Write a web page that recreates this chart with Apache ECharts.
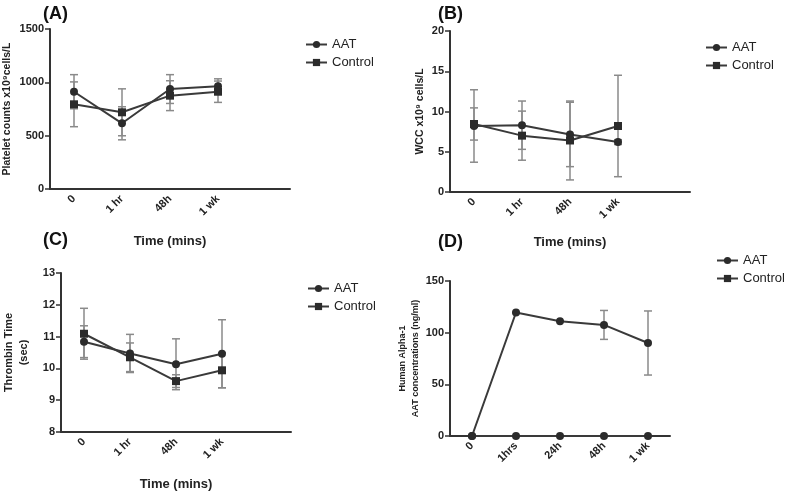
<!DOCTYPE html>
<html>
<head>
<meta charset="utf-8">
<script src="https://cdn.jsdelivr.net/npm/echarts@6/dist/echarts.min.js"></script>
<style>html,body{margin:0;padding:0;background:#fff}#c{width:787px;height:492px}</style>
</head>
<body>
<div id="c"></div>
<script>
// ---- data ----
var catsABC = ['0', '1 hr', '48h', '1 wk', ''];
var catsD = ['0', '1hrs', '24h', '48h', '1 wk'];

var plateletAAT = [912, 616, 937, 963];
var plateletAATErr = [160, 155, 135, 70];
var plateletCtrl = [794, 719, 875, 912];
var plateletCtrlErr = [210, 220, 140, 100];

var wccAAT = [8.2, 8.3, 7.15, 6.2];
var wccAATErr = [4.5, 3.0, 4.0, 0.3];
var wccCtrl = [8.45, 7.0, 6.4, 8.2];
var wccCtrlErr = [2.0, 3.05, 4.9, 6.3];

var thrAAT = [10.84, 10.47, 10.13, 10.46];
var thrAATErr = [0.5, 0.6, 0.8, 1.07];
var thrCtrl = [11.09, 10.35, 9.6, 9.94];
var thrCtrlErr = [0.8, 0.45, 0.2, 0.55];

var alphaAAT = [0, 119.5, 111, 107.5, 90];
var alphaAATErr = [0, 0, 0, 14, 31];
var alphaCtrl = [0, 0, 0, 0, 0];
var alphaCtrlErr = [0, 0, 0, 0, 0];

// ---- helpers ----
var FONT = '"Liberation Sans", Arial, sans-serif';
var DARK = '#2b2b2b';
function errData(v, e) { return v.map(function (x, i) { return [i, x - e[i], x + e[i]]; }); }
function errSeries(v, e, gi) {
  return {
    type: 'custom', xAxisIndex: gi, yAxisIndex: gi, z: 1, silent: true,
    data: errData(v, e),
    renderItem: function (params, api) {
      var lo = api.coord([api.value(0), api.value(1)]);
      var hi = api.coord([api.value(0), api.value(2)]);
      var w = 4;
      var st = { stroke: '#8a8a8a', lineWidth: 1.5 };
      return { type: 'group', children: [
        { type: 'line', shape: { x1: lo[0], y1: lo[1], x2: hi[0], y2: hi[1] }, style: st },
        { type: 'line', shape: { x1: hi[0] - w, y1: hi[1], x2: hi[0] + w, y2: hi[1] }, style: st },
        { type: 'line', shape: { x1: lo[0] - w, y1: lo[1], x2: lo[0] + w, y2: lo[1] }, style: st }
      ]};
    }
  };
}
function lineSeries(name, v, gi, sym) {
  return {
    name: name, type: 'line', xAxisIndex: gi, yAxisIndex: gi, z: 3,
    data: v, symbol: sym, symbolSize: 8,
    lineStyle: { color: '#3a3a3a', width: 2 },
    itemStyle: { color: DARK },
    emphasis: { disabled: true }
  };
}
function xAxis(gi, cats, name, gap) {
  return {
    type: 'category', gridIndex: gi, data: cats, boundaryGap: true,
    axisLine: { lineStyle: { color: '#333', width: 2 } },
    axisTick: { alignWithLabel: true, length: 5, lineStyle: { color: '#333', width: 1.5 },
      interval: function (i, v) { return v !== ''; } },
    axisLabel: { rotate: 45, fontFamily: FONT, fontWeight: 'bold', fontSize: 11, color: '#222', margin: 8, interval: 0 },
    name: name, nameLocation: 'middle', nameGap: gap || 44,
    nameTextStyle: { fontFamily: FONT, fontWeight: 'bold', fontSize: 13, color: '#222' },
    splitLine: { show: false }
  };
}
function yAxis(gi, min, max, interval, name, gap, fs) {
  return {
    type: 'value', gridIndex: gi, min: min, max: max, interval: interval,
    axisLine: { show: true, lineStyle: { color: '#333', width: 2 } },
    axisTick: { show: true, length: 5, lineStyle: { color: '#333', width: 1.5 } },
    axisLabel: { fontFamily: FONT, fontWeight: 'bold', fontSize: 11, color: '#222', margin: 6,
      formatter: function (v) { return String(v); } },
    splitLine: { show: false },
    name: name, nameLocation: 'middle', nameGap: gap, nameRotate: 90,
    nameTextStyle: { fontFamily: FONT, fontWeight: 'bold', fontSize: fs || 10.5, color: '#222', lineHeight: fs ? fs + 4 : 13 }
  };
}
function legend(left, top) {
  return {
    left: left, top: top, orient: 'vertical', itemGap: 5, itemWidth: 21, itemHeight: 9,
    selectedMode: false,
    textStyle: { fontFamily: FONT, fontSize: 13, color: '#222' },
    data: ['AAT', 'Control']
  };
}
function letter(t, l, tp) {
  return { text: t, left: l, top: tp, textStyle: { fontFamily: FONT, fontSize: 18, fontWeight: 'bold', color: '#111' } };
}

var option = {
  animation: false,
  backgroundColor: '#fff',
  title: [letter('(A)', 38, 0), letter('(B)', 433, 0), letter('(C)', 38, 226), letter('(D)', 433, 228)],
  legend: [legend(300, 33), legend(700, 36), legend(302, 277), legend(711, 249)],
  grid: [
    { left: 50, top: 29, width: 240, height: 160 },
    { left: 450, top: 31, width: 240, height: 161 },
    { left: 51, top: 273, width: 240, height: 161 },
    { left: 450, top: 281, width: 220, height: 155 }
  ],
  xAxis: [xAxis(0, catsABC, 'Time (mins)', 46), xAxis(1, catsABC, 'Time (mins)', 44), xAxis(2, catsABC, 'Time (mins)', 46), xAxis(3, catsD, '')],
  yAxis: [
    yAxis(0, 0, 1500, 500, 'Platelet counts x10\u2079cells/L', 36),
    yAxis(1, 0, 20, 5, 'WCC x10\u2079 cells/L', 23),
    yAxis(2, 8, 13, 1, 'Thrombin Time\n(sec)', 30, 11),
    yAxis(3, 0, 150, 50, 'Human Alpha-1\nAAT concentrations (ng/ml)', 27, 9)
  ],
  series: [
    errSeries(plateletAAT, plateletAATErr, 0), errSeries(plateletCtrl, plateletCtrlErr, 0),
    lineSeries('AAT', plateletAAT, 0, 'circle'), lineSeries('Control', plateletCtrl, 0, 'rect'),
    errSeries(wccAAT, wccAATErr, 1), errSeries(wccCtrl, wccCtrlErr, 1),
    lineSeries('AAT', wccAAT, 1, 'circle'), lineSeries('Control', wccCtrl, 1, 'rect'),
    errSeries(thrAAT, thrAATErr, 2), errSeries(thrCtrl, thrCtrlErr, 2),
    lineSeries('AAT', thrAAT, 2, 'circle'), lineSeries('Control', thrCtrl, 2, 'rect'),
    errSeries(alphaAAT, alphaAATErr, 3), errSeries(alphaCtrl, alphaCtrlErr, 3),
    lineSeries('AAT', alphaAAT, 3, 'circle'), lineSeries('Control', alphaCtrl, 3, 'circle')
  ]
};
var chart = echarts.init(document.getElementById('c'), null, { renderer: 'canvas' });
chart.setOption(option);
</script>
</body>
</html>
